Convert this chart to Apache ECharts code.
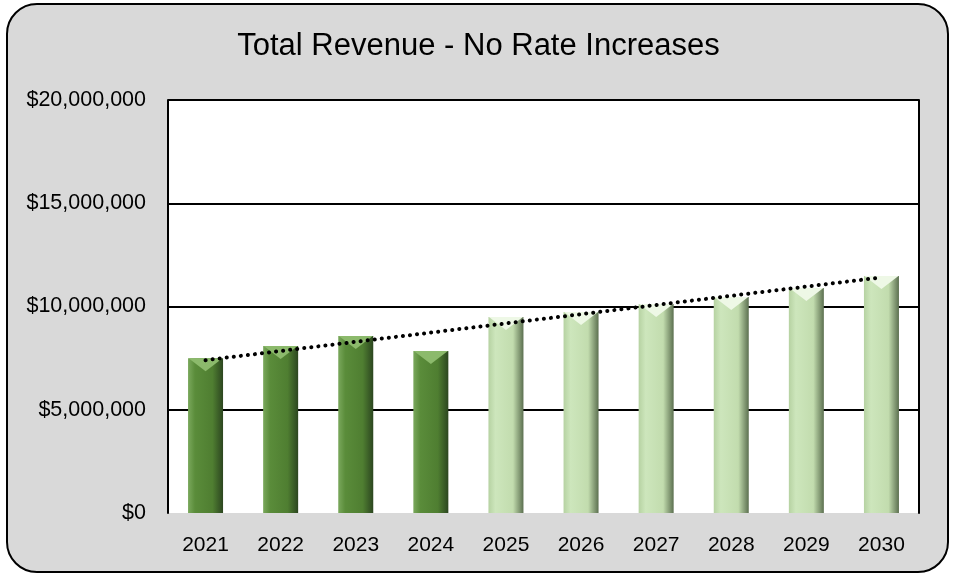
<!DOCTYPE html>
<html>
<head>
<meta charset="utf-8">
<script src="https://cdn.jsdelivr.net/npm/echarts@6/dist/echarts.min.js"></script>
<style>
  html, body { margin: 0; padding: 0; background: #ffffff; }
  #chart { width: 957px; height: 577px; }
</style>
</head>
<body>
<div id="chart"></div>
<script>
// data
const years = ['2021', '2022', '2023', '2024', '2025', '2026', '2027', '2028', '2029', '2030'];
const revenue = [7500000, 8090000, 8570000, 7850000, 9490000, 9730000, 10120000, 10460000, 10900000, 11480000];
const actualCount = 4; // first four bars are the dark (actual) ones
const trendEnds = [7400000, 11410000]; // linear trend at 2021 and 2030
const yTicks = { min: 0, max: 20000000, interval: 5000000 };

const labelFont = "'Liberation Sans', Arial, sans-serif";

function barGradient(dark) {
    const c = dark
        ? ['#7aa85c', '#5a8c3a', '#4f7e31', '#2c4620']
        : ['#b6d2a2', '#cde6bc', '#c2dcae', '#5c7050'];
    return new echarts.graphic.LinearGradient(0, 0, 1, 0, [
        { offset: 0, color: c[0] },
        { offset: 0.2, color: c[1] },
        { offset: 0.7, color: c[2] },
        { offset: 1, color: c[3] }
    ]);
}

const chart = echarts.init(document.getElementById('chart'), null, { renderer: 'canvas' });

chart.setOption({
    backgroundColor: '#ffffff',
    animation: false,
    graphic: [{
        type: 'rect',
        z: -10,
        shape: { x: 7, y: 4, width: 941, height: 568, r: 30 },
        style: { fill: '#d9d9d9', stroke: '#000000', lineWidth: 2 }
    }],
    title: {
        text: 'Total Revenue - No Rate Increases',
        left: 'center',
        top: 26,
        textStyle: { fontFamily: labelFont, fontSize: 31, fontWeight: 'normal', color: '#000' }
    },
    grid: { left: 168, right: 38, top: 100, bottom: 64, show: true, backgroundColor: '#ffffff', borderWidth: 0 },
    xAxis: {
        type: 'category',
        data: years,
        axisLine: { show: false },
        axisTick: { show: false },
        axisLabel: { color: '#000', fontFamily: labelFont, fontSize: 21, margin: 22 }
    },
    yAxis: [{
        type: 'value',
        min: yTicks.min,
        max: yTicks.max,
        interval: yTicks.interval,
        axisLine: { show: true, lineStyle: { color: '#000', width: 2 } },
        axisTick: { show: false },
        splitLine: { show: true, showMinLine: false, lineStyle: { color: '#000', width: 2 } },
        axisLabel: {
            color: '#000', fontFamily: labelFont, fontSize: 21.5, margin: 22,
            formatter: v => '$' + v.toLocaleString('en-US')
        }
    }, {
        type: 'value',
        position: 'right',
        min: yTicks.min,
        max: yTicks.max,
        interval: yTicks.interval,
        axisLine: { show: true, lineStyle: { color: '#000', width: 2 } },
        axisTick: { show: false },
        axisLabel: { show: false },
        splitLine: { show: false }
    }],
    series: [{
        type: 'bar',
        barWidth: 35,
        barGap: '-100%',
        data: revenue.map((v, i) => ({
            value: v,
            itemStyle: { color: barGradient(i < actualCount) }
        })),
        z: 2
    }, {
        // light bevel "V" at the top of each bar
        type: 'pictorialBar',
        barWidth: 35,
        barGap: '-100%',
        symbol: 'path://M0,0 L10,0 L5,4 Z',
        symbolSize: [34, 13],
        symbolPosition: 'end',
        symbolOffset: [0, 0],
        data: revenue.map((v, i) => ({
            value: v,
            itemStyle: { color: i < actualCount ? '#8cba6c' : '#eef8e6' }
        })),
        z: 3,
        silent: true
    }, {
        type: 'line',
        data: [[0, trendEnds[0]], [years.length - 1, trendEnds[1]]],
        symbol: 'none',
        lineStyle: { color: '#000', width: 4, type: [0.1, 7], cap: 'round' },
        z: 5
    }]
});
</script>
</body>
</html>
